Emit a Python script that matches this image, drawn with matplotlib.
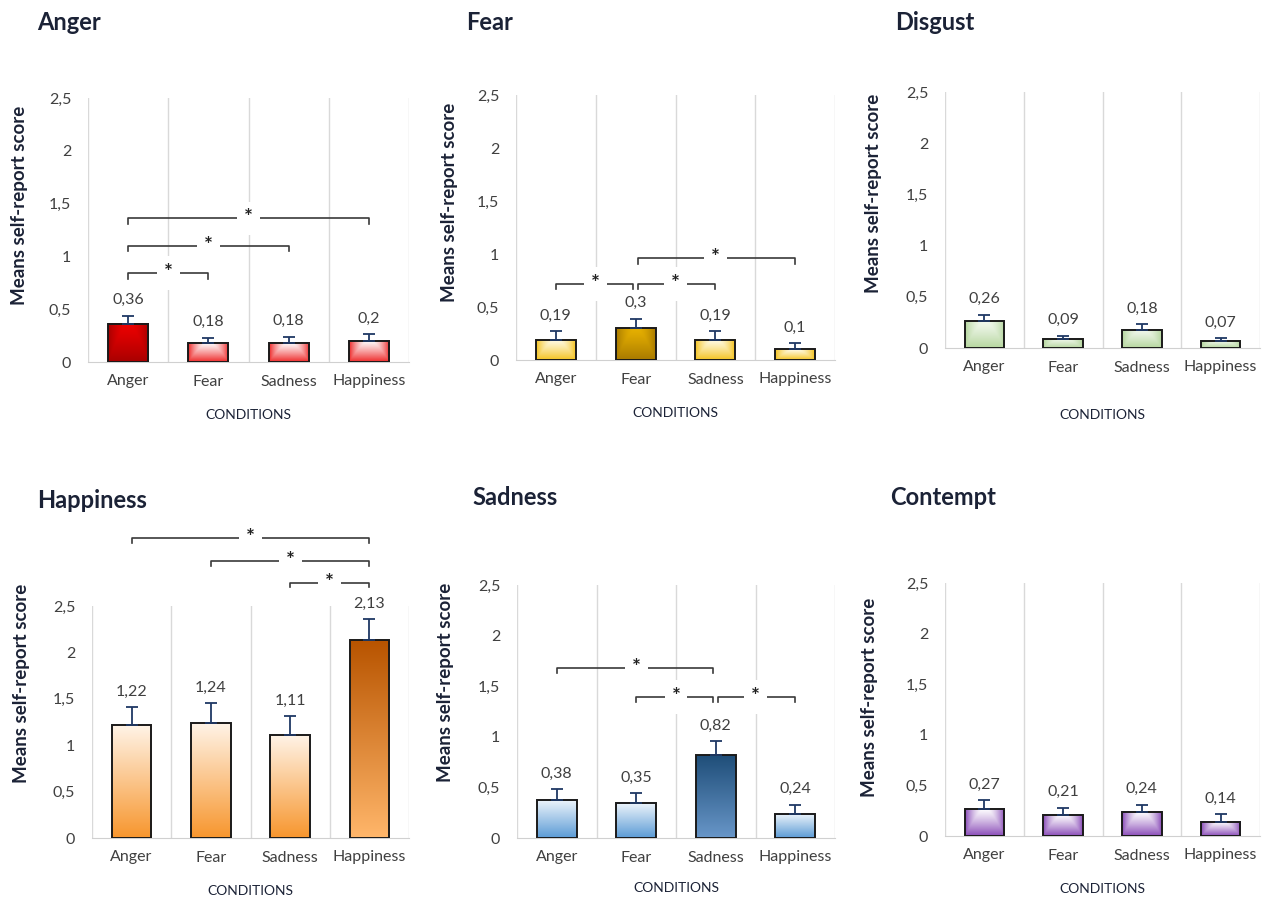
import numpy as np
import matplotlib
matplotlib.use("Agg")
import matplotlib.pyplot as plt
from matplotlib.ticker import FuncFormatter

plt.rcParams['font.family'] = ['Lato', 'DejaVu Sans']

conditions = ['Anger', 'Fear', 'Sadness', 'Happiness']

anger_means = [0.36, 0.18, 0.18, 0.2]
anger_err = [0.08, 0.05, 0.06, 0.065]
fear_means = [0.19, 0.3, 0.19, 0.1]
fear_err = [0.08, 0.09, 0.08, 0.06]
disgust_means = [0.26, 0.09, 0.18, 0.07]
disgust_err = [0.065, 0.03, 0.05, 0.03]
happiness_means = [1.22, 1.24, 1.11, 2.13]
happiness_err = [0.19, 0.21, 0.2, 0.23]
sadness_means = [0.38, 0.35, 0.82, 0.24]
sadness_err = [0.10, 0.09, 0.14, 0.09]
contempt_means = [0.27, 0.21, 0.24, 0.14]
contempt_err = [0.085, 0.07, 0.07, 0.08]

# significance brackets: (from, to, height)
anger_sig = [(0, 3, 1.36), (0, 2, 1.10), (0, 1, 0.84)]
fear_sig = [(1, 3, 0.96), (0, 1, 0.72), (1, 2, 0.72)]
disgust_sig = []
happiness_sig = [(0, 3, 3.23), (1, 3, 2.98), (2, 3, 2.75)]
sadness_sig = [(0, 2, 1.68), (1, 2, 1.39), (2, 3, 1.39)]
contempt_sig = []

W, H = 1264, 898
fig = plt.figure(figsize=(W / 100, H / 100), dpi=100)

# title, means, err, sig, highlighted bar, gradient style, colours,
# axes px box, title px, ylabel px, CONDITIONS offset (pt)
panels = [
    ('Anger', anger_means, anger_err, anger_sig, 0, 'path',
     ('#ffffff', '#ee2a2a'), ('#ec0000', '#a80000'),
     (88, 409, 98, 362), (37, 22), (20, 205), -38),
    ('Fear', fear_means, fear_err, fear_sig, 1, 'path',
     ('#fffbe8', '#f4c320'), ('#e6b000', '#a87a00'),
     (516, 835, 95, 360), (466, 22), (449, 202), -38),
    ('Disgust', disgust_means, disgust_err, disgust_sig, None, 'path',
     ('#f2f8ee', '#b5d69e'), None,
     (945, 1260, 92, 348), (895, 22), (873, 193), -48),
    ('Happiness', happiness_means, happiness_err, happiness_sig, 3, 'linear',
     ('#fff4e8', '#f7962e'), ('#ffb66a', '#b85400'),
     (92, 409, 606, 838), (37, 500), (22, 683), -38),
    ('Sadness', sadness_means, sadness_err, sadness_sig, 2, 'linear',
     ('#f0f6fc', '#5b9bd5'), ('#6896c8', '#1f4e79'),
     (517, 835, 585, 838), (472, 497), (445, 682), -36),
    ('Contempt', contempt_means, contempt_err, contempt_sig, None, 'path',
     ('#ffffff', '#8a4cb8'), None,
     (945, 1260, 583, 836), (890, 497), (870, 697), -38),
]


def gradient(c1, c2, mode, dark_top=False, n=80):
    a = np.array(matplotlib.colors.to_rgb(c1))
    b = np.array(matplotlib.colors.to_rgb(c2))
    y = np.linspace(0, 1, n)[:, None]
    x = np.linspace(-1, 1, n)[None, :]
    if mode == 'path':
        w = np.maximum(np.abs(x) ** 1.8, (1 - y) ** 1.2)
    elif dark_top:
        w = y * np.ones_like(x)
    else:
        w = (1 - y) * np.ones_like(x)
    w = np.clip(w, 0, 1)[..., None]
    return a * (1 - w) + b * w


fmt = FuncFormatter(lambda v, p: ('%g' % v).replace('.', ','))
text_col = '#404040'
dark = '#1b2236'

for (title, means, err, sig, hi, mode, light_c, hi_c, box, tpos, ypos, cond_off) in panels:
    x0, x1, yt, yb = box
    ax = fig.add_axes([x0 / W, 1 - yb / H, (x1 - x0) / W, (yb - yt) / H])
    xs = np.arange(len(conditions))
    bw = 0.5
    for i, (m, e) in enumerate(zip(means, err)):
        if i == hi:
            img = gradient(hi_c[0], hi_c[1], mode, dark_top=(mode == 'linear'))
        else:
            img = gradient(light_c[0], light_c[1], mode)
        ax.imshow(img, extent=(i - bw / 2, i + bw / 2, 0, m), origin='lower',
                  aspect='auto', interpolation='bilinear', zorder=2)
    ax.bar(xs, means, width=bw, facecolor='none', edgecolor='#1a1a1a',
           linewidth=1.4, zorder=3)
    ax.errorbar(xs, means, yerr=[np.zeros(len(err)), err], fmt='none',
                ecolor='#1f3864', elinewidth=1.3, capsize=4, capthick=1.3, zorder=4)
    for i, (m, e) in enumerate(zip(means, err)):
        ax.annotate(('%g' % m).replace('.', ','), xy=(i, m + e), xytext=(0, 6),
                    textcoords='offset points', ha='center', va='bottom',
                    fontsize=11.5, color=text_col, zorder=5)

    for (a, b, h) in sig:
        xa = a + (0.03 if a in [s[1] for s in sig] else 0)
        xb = b - (0.03 if b in [s[0] for s in sig] and b != 3 else 0)
        ax.plot([xa, xa, xb, xb], [h - 0.05, h, h, h - 0.05], color='#3a3a3a',
                lw=1.2, clip_on=False, zorder=5)
        ax.text((a + b) / 2, h, '*', ha='center', va='center', fontsize=15,
                fontweight='bold', color='#222222', zorder=6, clip_on=False,
                bbox=dict(facecolor='white', edgecolor='none', pad=5))

    for gx in [-0.5, 0.5, 1.5, 2.5, 3.5]:
        ax.axvline(gx, color='#d9d9d9', lw=1, zorder=1)
    ax.set_xlim(-0.5, 3.5)
    ax.set_ylim(0, 2.5)
    ax.set_yticks([0, 0.5, 1, 1.5, 2, 2.5])
    ax.yaxis.set_major_formatter(fmt)
    ax.set_xticks(xs)
    ax.set_xticklabels(conditions)
    ax.tick_params(axis='y', length=0, pad=12, labelsize=11.5, labelcolor=text_col)
    ax.tick_params(axis='x', length=0, pad=9, labelsize=11.5, labelcolor=text_col)
    for s in ['top', 'right', 'left']:
        ax.spines[s].set_visible(False)
    ax.spines['bottom'].set_color('#d0d0d0')
    ax.patch.set_alpha(0)

    ax.annotate('CONDITIONS', xy=(0.5, 0), xycoords='axes fraction',
                xytext=(0, cond_off), textcoords='offset points', ha='center',
                va='center', fontsize=10, color=dark)
    fig.text(tpos[0] / W, 1 - tpos[1] / H, title, ha='left', va='center',
             fontsize=17, fontweight='bold', color=dark)
    fig.text(ypos[0] / W, 1 - ypos[1] / H, 'Means self-report score', rotation=90,
             ha='center', va='center', fontsize=13.5, fontweight='bold', color=dark)

fig.savefig('out.png', dpi=100)
